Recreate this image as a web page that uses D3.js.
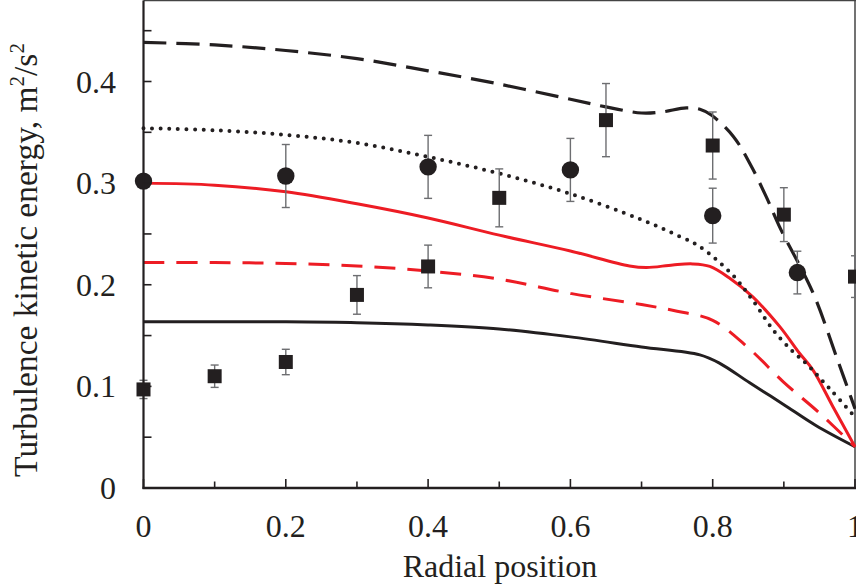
<!DOCTYPE html>
<html>
<head>
<meta charset="utf-8">
<script src="https://cdn.jsdelivr.net/npm/d3@7"></script>
<style>
  html, body { margin: 0; padding: 0; background: #fff; }
  svg { display: block; }
  text { font-family: "Liberation Serif", "Times New Roman", serif; fill: #231f20; }
</style>
</head>
<body>
<svg id="chart" width="856" height="587"></svg>
<script>
// ---------- data ----------
const xTickValues = [0, 0.1, 0.2, 0.3, 0.4, 0.5, 0.6, 0.7, 0.8, 0.9, 1];
const xTickLabels = ["0", "", "0.2", "", "0.4", "", "0.6", "", "0.8", "", "1"];
const yTickValues = [0, 0.05, 0.1, 0.15, 0.2, 0.25, 0.3, 0.35, 0.4, 0.45];
const yTickLabels = ["0", "", "0.1", "", "0.2", "", "0.3", "", "0.4", ""];

// black long-dashed model curve
const blackDashX = [0, 0.1, 0.2, 0.3, 0.4, 0.5, 0.6, 0.65, 0.70, 0.728, 0.763, 0.782, 0.798, 0.829, 0.852, 0.875, 0.894, 0.941, 0.974, 1.0];
const blackDashY = [0.4385, 0.436, 0.4305, 0.4225, 0.4105, 0.3975, 0.3825, 0.375, 0.369, 0.370, 0.374, 0.3727, 0.367, 0.346, 0.3196, 0.287, 0.257, 0.192, 0.129, 0.078];
// black dotted model curve
const dottedX = [0, 0.1, 0.2, 0.3, 0.4, 0.5, 0.6, 0.7, 0.754, 0.782, 0.828, 0.856, 0.885, 0.913, 0.931, 0.964, 1.0];
const dottedY = [0.354, 0.352, 0.3475, 0.3395, 0.3258, 0.3095, 0.2895, 0.264, 0.2474, 0.2375, 0.2096, 0.185, 0.1555, 0.134, 0.1227, 0.098, 0.070];
// red solid model curve
const redSolidX = [0, 0.1, 0.2, 0.3, 0.4, 0.5, 0.6, 0.683, 0.707, 0.744, 0.772, 0.796, 0.824, 0.856, 0.894, 0.922, 0.941, 0.969, 1.0];
const redSolidY = [0.300, 0.298, 0.2915, 0.2797, 0.2657, 0.2488, 0.2332, 0.2185, 0.2169, 0.2195, 0.2205, 0.218, 0.2064, 0.1883, 0.159, 0.1326, 0.116, 0.080, 0.0406];
// red dashed model curve
const redDashX = [0, 0.1, 0.2, 0.3, 0.4, 0.5, 0.6, 0.7, 0.75, 0.8, 0.85, 0.9, 0.95, 1.0];
const redDashY = [0.222, 0.2218, 0.221, 0.2185, 0.2135, 0.2055, 0.1915, 0.1805, 0.174, 0.165, 0.138, 0.104, 0.0738, 0.0406];
// black solid model curve
const blackSolidX = [0, 0.2, 0.3, 0.4, 0.5, 0.6, 0.7, 0.782, 0.81, 0.852, 0.899, 0.945, 1.0];
const blackSolidY = [0.1637, 0.1635, 0.1627, 0.1605, 0.1565, 0.1487, 0.1388, 0.131, 0.1227, 0.1035, 0.0825, 0.0615, 0.0406];

// measurements: squares
const squareX = [0, 0.1, 0.2, 0.3, 0.4, 0.5, 0.65, 0.8, 0.9, 1.0];
const squareY = [0.097, 0.110, 0.124, 0.190, 0.218, 0.2855, 0.362, 0.337, 0.269, 0.208];
const squareErr = [0.009, 0.011, 0.0125, 0.019, 0.021, 0.0285, 0.036, 0.033, 0.0265, 0.0205];
// measurements: circles
const circleX = [0, 0.2, 0.4, 0.6, 0.8, 0.919];
const circleY = [0.302, 0.307, 0.316, 0.313, 0.268, 0.212];
const circleErr = [0, 0.031, 0.031, 0.031, 0.027, 0.021];

// ---------- drawing ----------
const svg = d3.select("#chart");
const x = d3.scaleLinear().domain([0, 1]).range([143.5, 855]);
const y = d3.scaleLinear().domain([0, 0.4]).range([488, 81.5]);
const yTop = 0.5;
const ink = "#231f20";
const red = "#ed1c24";

// frame (top / right)
svg.append("line").attr("x1", x(0)).attr("x2", 856).attr("y1", yTop).attr("y2", yTop)
  .attr("stroke", "#444").attr("stroke-width", 1.5);
svg.append("line").attr("x1", x(1)).attr("x2", x(1)).attr("y1", yTop).attr("y2", y(0))
  .attr("stroke", "#444").attr("stroke-width", 1.5);

// curves
const zip = (xs, ys) => xs.map((v, i) => [v, ys[i]]);
const line = d3.line().x(d => x(d[0])).y(d => y(d[1])).curve(d3.curveCatmullRom.alpha(0.5));
const curves = [
  { data: zip(blackSolidX, blackSolidY), color: ink, width: 3, dash: null, cap: "butt" },
  { data: zip(redDashX, redDashY), color: red, width: 3, dash: "21 12", cap: "butt" },
  { data: zip(redSolidX, redSolidY), color: red, width: 3, dash: null, cap: "butt" },
  { data: zip(dottedX, dottedY), color: ink, width: 4, dash: "0 8.6", cap: "round" },
  { data: zip(blackDashX, blackDashY), color: ink, width: 3.2, dash: "23 10", cap: "butt" }
];
svg.append("g").selectAll("path").data(curves).join("path")
  .attr("d", d => line(d.data))
  .attr("fill", "none")
  .attr("stroke", d => d.color)
  .attr("stroke-width", d => d.width)
  .attr("stroke-dasharray", d => d.dash)
  .attr("stroke-linecap", d => d.cap);

// error bars
const errGrey = "#6d6e71";
const capW = 4;
function errorBars(xs, ys, es) {
  const g = svg.append("g").attr("stroke", errGrey).attr("stroke-width", 1.4).attr("fill", "none");
  xs.forEach((xv, i) => {
    if (!es[i]) return;
    const cx = x(xv), t = y(ys[i] + es[i]), b = y(ys[i] - es[i]);
    g.append("line").attr("x1", cx).attr("x2", cx).attr("y1", t).attr("y2", b);
    g.append("line").attr("x1", cx - capW).attr("x2", cx + capW).attr("y1", t).attr("y2", t);
    g.append("line").attr("x1", cx - capW).attr("x2", cx + capW).attr("y1", b).attr("y2", b);
  });
}
errorBars(squareX, squareY, squareErr);
errorBars(circleX, circleY, circleErr);

// markers
const sq = 14;
svg.append("g").selectAll("rect").data(d3.range(squareX.length)).join("rect")
  .attr("x", i => x(squareX[i]) - sq / 2).attr("y", i => y(squareY[i]) - sq / 2)
  .attr("width", sq).attr("height", sq).attr("fill", ink);
svg.append("g").selectAll("circle").data(d3.range(circleX.length)).join("circle")
  .attr("cx", i => x(circleX[i])).attr("cy", i => y(circleY[i]))
  .attr("r", 8.7).attr("fill", ink);

// axes
svg.append("line").attr("x1", x(0)).attr("x2", x(0)).attr("y1", yTop).attr("y2", y(0) + 1)
  .attr("stroke", ink).attr("stroke-width", 2.2);
svg.append("line").attr("x1", x(0) - 1).attr("x2", 856).attr("y1", y(0)).attr("y2", y(0))
  .attr("stroke", ink).attr("stroke-width", 2.6);

// y ticks (inward)
svg.append("g").selectAll("line").data(yTickValues).join("line")
  .attr("x1", x(0)).attr("x2", x(0) + 8)
  .attr("y1", d => y(d)).attr("y2", d => y(d))
  .attr("stroke", ink).attr("stroke-width", 1.6);
svg.append("g").selectAll("text").data(yTickValues).join("text")
  .attr("x", 116).attr("y", d => y(d) + 11)
  .attr("text-anchor", "end").attr("font-size", 32)
  .text((d, i) => yTickLabels[i]);

// x ticks (inward)
svg.append("g").selectAll("line").data(xTickValues).join("line")
  .attr("x1", d => x(d)).attr("x2", d => x(d))
  .attr("y1", y(0)).attr("y2", (d, i) => y(0) - (xTickLabels[i] ? 9 : 6.5))
  .attr("stroke", ink).attr("stroke-width", 1.6);
svg.append("g").selectAll("text").data(xTickValues).join("text")
  .attr("x", d => x(d)).attr("y", 537)
  .attr("text-anchor", "middle").attr("font-size", 32)
  .text((d, i) => xTickLabels[i]);

// axis titles
svg.append("text").attr("x", 500).attr("y", 577).attr("text-anchor", "middle")
  .attr("font-size", 32).text("Radial position");

const yt = svg.append("text").attr("transform", "translate(37,260) rotate(-90)")
  .attr("text-anchor", "middle").attr("font-size", 33.5);
yt.append("tspan").text("Turbulence kinetic energy, m");
yt.append("tspan").attr("font-size", 21).attr("dy", -13).text("2");
yt.append("tspan").attr("dy", 13).text("/s");
yt.append("tspan").attr("font-size", 21).attr("dy", -13).text("2");
</script>
</body>
</html>
